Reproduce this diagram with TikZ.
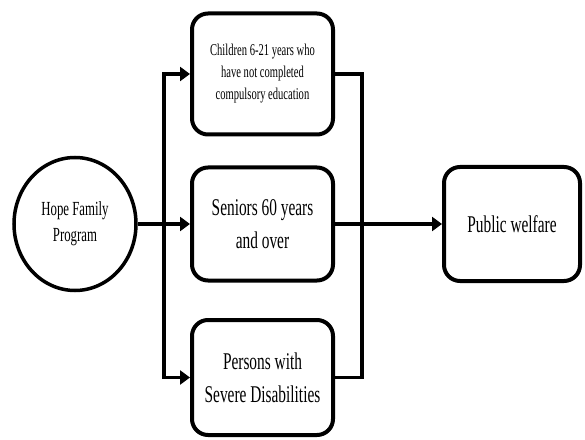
\documentclass[tikz,border=0pt]{standalone}
\usepackage{fontspec}
\usepackage{tikz}
\usetikzlibrary{arrows.meta,shapes,positioning,calc}
\newfontfamily\narrowserif[FakeStretch=0.64]{Liberation Serif}

\tikzset{
  program/.style={draw, ellipse, line width=3.5pt, inner sep=0pt,
    minimum width=122pt, minimum height=133pt, align=center,
    font=\narrowserif\fontsize{20}{26}\selectfont},
  group/.style={draw, line width=4pt, rounded corners=16pt, inner sep=0pt,
    minimum width=141pt, align=center,
    font=\narrowserif\fontsize{24}{33}\selectfont},
  smalltext/.style={font=\narrowserif\fontsize{16.5}{22}\selectfont},
  link/.style={line width=3.5pt},
  flow/.style={line width=3.5pt, -{Triangle[length=10pt,width=14pt]}}
}

\begin{document}
\begin{tikzpicture}[x=1pt,y=1pt]
  \useasboundingbox (0,0) rectangle (585,439);
  % source
  \node[program] (hope) at (75,215) {Hope Family\\Program};

  % target groups
  \node[group, smalltext, minimum height=121pt] (child) at (262.5,365)
    {Children 6-21 years who\\have not completed\\compulsory education};
  \node[group, minimum height=113pt] (senior) at (262.5,215)
    {Seniors 60 years\\and over};
  \node[group, minimum height=115pt] (disab) at (262.5,61.5)
    {Persons with\\Severe Disabilities};

  % result
  \node[group, minimum width=136pt, minimum height=114pt] (welfare) at (512,215)
    {Public welfare};

  % connectors
  \coordinate (split) at ($(hope.east)!0.5!(senior.west)$);
  \coordinate (join) at (362,215);
  \draw[flow] (hope.east) -- (senior.west);
  \draw[flow] (split) |- (child.west);
  \draw[flow] (split) |- (disab.west);
  \draw[link] (child.east) -| (join);
  \draw[link] (disab.east) -| (join);
  \draw[flow] (senior.east) -- (welfare.west);
\end{tikzpicture}
\end{document}
